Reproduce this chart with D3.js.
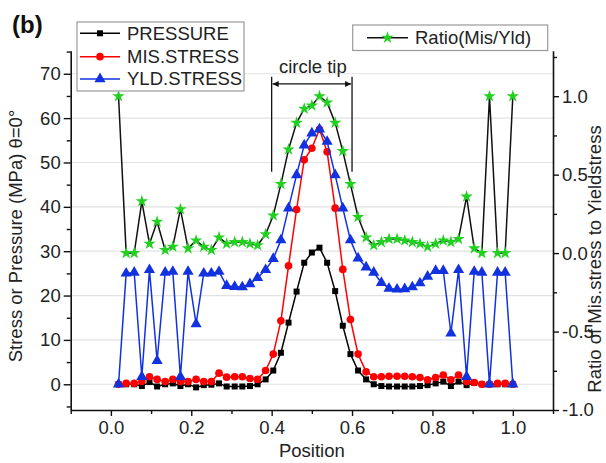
<!DOCTYPE html>
<html>
<head>
<meta charset="utf-8">
<script src="https://cdn.jsdelivr.net/npm/d3@7"></script>
<style>
  html, body { margin: 0; padding: 0; background: #fff; }
  svg { display: block; font-family: "Liberation Sans", Arial, sans-serif; }
</style>
</head>
<body>
<svg id="chart" width="606" height="463"></svg>
<script>
// Sample positions along the contact line
const positions = [0.019, 0.038, 0.058, 0.077, 0.096, 0.115, 0.135, 0.154, 0.173, 0.192,
  0.212, 0.231, 0.250, 0.269, 0.288, 0.308, 0.327, 0.346, 0.365, 0.385,
  0.404, 0.423, 0.442, 0.462, 0.481, 0.500, 0.519, 0.538, 0.558, 0.577,
  0.596, 0.615, 0.635, 0.654, 0.673, 0.692, 0.712, 0.731, 0.750, 0.769,
  0.788, 0.808, 0.827, 0.846, 0.865, 0.885, 0.904, 0.923, 0.942, 0.962,
  0.981, 1.000];

// Stress / pressure series (MPa)
const pressure = [0, 0, 0, -0.4, 0.5, -0.5, 0, 0.2, -0.4, 0,
  -0.7, -0.2, -0.1, 0.2, -0.5, -0.5, -0.5, -0.4, 0, 1.1,
  3.1, 7.1, 13.9, 20.9, 27.4, 29.7, 30.8, 27.4, 21.0, 13.2,
  6.8, 3.1, 1.1, 0, -0.4, -0.5, -0.5, -0.5, -0.5, -0.4,
  -0.2, 0.2, 0.6, -0.4, 0.6, -0.2, 0.3, 0, 0, 0,
  0, 0];
const misStress = [0, 0.2, 0.2, 0.6, 1.7, 1.1, 0.6, 1.1, 0.6, 0.6,
  1.1, 0.6, 0.6, 2.5, 1.6, 1.7, 1.7, 1.3, 1.1, 3.1,
  6.8, 14.3, 26.7, 39.4, 50.6, 53.2, 57.5, 52.4, 39.7, 25.9,
  14.6, 6.8, 2.8, 1.7, 1.7, 1.8, 1.8, 1.8, 1.7, 1.5,
  1.0, 1.5, 2.1, 1.0, 2.1, 0.6, 0.4, 0, 0, 0.2,
  0.2, 0];
const yldStress = [0, 25.0, 25.2, 1.7, 25.8, 5.3, 25.2, 25.4, 1.7, 25.4,
  13.6, 25.0, 25.0, 25.4, 22.2, 22.0, 21.9, 22.6, 24.0, 25.8,
  28.3, 32.5, 39.7, 47.2, 53.9, 56.6, 57.5, 54.7, 47.2, 39.7,
  32.5, 28.4, 26.4, 25.2, 22.9, 21.6, 21.4, 21.5, 21.9, 22.8,
  24.3, 25.6, 25.6, 11.5, 25.8, 1.7, 25.4, 25.2, 0, 25.2,
  25.2, 0];
// Ratio of Mises stress to yield stress (right axis)
const ratio = [1.0, 0.0, 0.0, 0.33, 0.06, 0.20, 0.02, 0.04, 0.28, 0.03,
  0.08, 0.04, 0.02, 0.10, 0.06, 0.07, 0.07, 0.06, 0.05, 0.12,
  0.24, 0.44, 0.66, 0.83, 0.92, 0.94, 1.0, 0.96, 0.83, 0.65,
  0.44, 0.23, 0.10, 0.05, 0.07, 0.09, 0.09, 0.08, 0.07, 0.06,
  0.04, 0.06, 0.08, 0.07, 0.09, 0.36, 0.03, 0.0, 1.0, 0.0,
  0.0, 1.0];

const xTicks = [0.0, 0.2, 0.4, 0.6, 0.8, 1.0];
const xMinorTicks = [-0.1, 0.1, 0.3, 0.5, 0.7, 0.9, 1.1];
const leftTicks = [0, 10, 20, 30, 40, 50, 60, 70];
const leftMinorTicks = [-5, 5, 15, 25, 35, 45, 55, 65, 75];
const rightTicks = [-1.0, -0.5, 0.0, 0.5, 1.0];
const rightMinorTicks = [-0.75, -0.25, 0.25, 0.75, 1.25];
const tipRange = [0.4, 0.6];

const svg = d3.select("#chart");
const plot = { left: 70.7, right: 553, top: 50.7, bottom: 410 };
const FONT = 18.5;
const TEXT = "#222";

const x = d3.scaleLinear().domain([-0.1, 1.1]).range([plot.left, plot.right]);
const yL = d3.scaleLinear().domain([-5.8, 75.2]).range([plot.bottom, plot.top]);
const yR = d3.scaleLinear().domain([-1.0, 1.29]).range([plot.bottom, plot.top]);

// horizontal grid at left major ticks
svg.append("g").selectAll("line").data(leftTicks).join("line")
  .attr("x1", plot.left).attr("x2", plot.right)
  .attr("y1", d => yL(d)).attr("y2", d => yL(d))
  .attr("stroke", "#e2e2e2").attr("stroke-width", 1.2);

// axes
function styleAxis(g) {
  g.selectAll("path.domain").attr("stroke", "#111").attr("stroke-width", 1.6);
  g.selectAll(".tick line").attr("stroke", "#111").attr("stroke-width", 1.4);
  g.selectAll(".tick text").attr("fill", TEXT)
    .attr("font-size", FONT).attr("font-family", "Liberation Sans, Arial, sans-serif");
}

const gx = svg.append("g").attr("transform", `translate(0,${plot.bottom})`)
  .call(d3.axisBottom(x).tickValues(xTicks).tickFormat(d3.format(".1f"))
    .tickSizeInner(6).tickSizeOuter(0).tickPadding(5));
styleAxis(gx);
svg.append("g").attr("transform", `translate(0,${plot.bottom})`)
  .call(d3.axisBottom(x).tickValues(xMinorTicks).tickFormat("").tickSizeInner(4).tickSizeOuter(0))
  .call(g => { g.select("path.domain").remove(); styleAxis(g); });

const gl = svg.append("g").attr("transform", `translate(${plot.left},0)`)
  .call(d3.axisLeft(yL).tickValues(leftTicks).tickFormat(d3.format("d"))
    .tickSizeInner(7).tickSizeOuter(0).tickPadding(3));
styleAxis(gl);
svg.append("g").attr("transform", `translate(${plot.left},0)`)
  .call(d3.axisLeft(yL).tickValues(leftMinorTicks).tickFormat("").tickSizeInner(4).tickSizeOuter(0))
  .call(g => { g.select("path.domain").remove(); styleAxis(g); });

const gr = svg.append("g").attr("transform", `translate(${plot.right},0)`)
  .call(d3.axisRight(yR).tickValues(rightTicks).tickFormat(d3.format(".1f"))
    .tickSizeInner(6).tickSizeOuter(0).tickPadding(3));
styleAxis(gr);
svg.append("g").attr("transform", `translate(${plot.right},0)`)
  .call(d3.axisRight(yR).tickValues(rightMinorTicks).tickFormat("").tickSizeInner(4).tickSizeOuter(0))
  .call(g => { g.select("path.domain").remove(); styleAxis(g); });

// minus signs as hyphens
gr.selectAll(".tick text").text(d => d3.format(".1f")(d).replace("\u2212", "-"));

// axis titles
svg.append("text").attr("x", (plot.left + plot.right) / 2).attr("y", 457)
  .attr("text-anchor", "middle").attr("font-size", FONT).attr("fill", TEXT).text("Position");
svg.append("text").attr("transform", "translate(21.5,236) rotate(-90)")
  .attr("text-anchor", "middle").attr("font-size", FONT).attr("fill", TEXT)
  .text("Stress or Pressure (MPa) \u03b8=0\u00b0");
svg.append("text").attr("transform", "translate(601,259) rotate(-90)")
  .attr("text-anchor", "middle").attr("font-size", FONT).attr("fill", TEXT)
  .text("Ratio of Mis.stress to Yieldstress");

// panel tag
svg.append("text").attr("x", 12).attr("y", 33).attr("font-size", 24)
  .attr("font-weight", "bold").attr("fill", "#111").text("(b)");

// "circle tip" annotation
const defs = svg.append("defs");
defs.append("marker").attr("id", "arrowHead").attr("viewBox", "0 0 10 10")
  .attr("refX", 10).attr("refY", 5).attr("markerWidth", 7).attr("markerHeight", 6)
  .attr("markerUnits", "userSpaceOnUse").attr("orient", "auto-start-reverse")
  .append("path").attr("d", "M0,0 L10,5 L0,10 Z").attr("fill", "#111");

const ann = svg.append("g");
tipRange.forEach(p => {
  ann.append("line").attr("x1", x(p)).attr("x2", x(p))
    .attr("y1", yL(69.3)).attr("y2", yL(47.9))
    .attr("stroke", "#111").attr("stroke-width", 1.3);
});
ann.append("line").attr("x1", x(tipRange[0]) + 1).attr("x2", x(tipRange[1]) - 1)
  .attr("y1", yL(67.7)).attr("y2", yL(67.7))
  .attr("stroke", "#111").attr("stroke-width", 1.2)
  .attr("marker-start", "url(#arrowHead)").attr("marker-end", "url(#arrowHead)");
ann.append("text").attr("x", x((tipRange[0] + tipRange[1]) / 2) + 1).attr("y", 72.5)
  .attr("text-anchor", "middle").attr("font-size", FONT).attr("fill", TEXT).text("circle tip");

// series
const series = [
  { name: "PRESSURE", values: pressure, y: yL, color: "#000000", line: "#000000", symbol: d3.symbolSquare, size: 36 },
  { name: "MIS.STRESS", values: misStress, y: yL, color: "#ff0000", line: "#ff0000", symbol: d3.symbolCircle, size: 46 },
  { name: "YLD.STRESS", values: yldStress, y: yL, color: "#1232e0", line: "#1232e0", symbol: d3.symbolTriangle, size: 54 },
  { name: "Ratio(Mis/Yld)", values: ratio, y: yR, color: "#22d022", line: "#111111", symbol: d3.symbolStar, size: 48 }
];

series.forEach(s => {
  const pts = positions.map((p, i) => [p, s.values[i]]);
  const line = d3.line().x(d => x(d[0])).y(d => s.y(d[1]));
  const g = svg.append("g");
  g.append("path").datum(pts).attr("d", line).attr("fill", "none")
    .attr("stroke", s.line).attr("stroke-width", 1.5).attr("stroke-linejoin", "round");
  g.selectAll("path.mark").data(pts).join("path").attr("class", "mark")
    .attr("d", d3.symbol().type(s.symbol).size(s.size))
    .attr("transform", d => `translate(${x(d[0])},${s.y(d[1])})`)
    .attr("fill", s.color);
});

// legends
function legend(items, box, rowsY, lineX, textX) {
  const g = svg.append("g");
  g.append("rect").attr("x", box[0]).attr("y", box[1]).attr("width", box[2]).attr("height", box[3])
    .attr("fill", "#fff").attr("stroke", "#999").attr("stroke-width", 1.2);
  items.forEach((s, i) => {
    const yy = rowsY[i];
    g.append("line").attr("x1", lineX[0]).attr("x2", lineX[1]).attr("y1", yy).attr("y2", yy)
      .attr("stroke", s.line).attr("stroke-width", 1.5);
    g.append("path").attr("d", d3.symbol().type(s.symbol).size(s.size))
      .attr("transform", `translate(${(lineX[0] + lineX[1]) / 2},${yy})`).attr("fill", s.color);
    g.append("text").attr("x", textX).attr("y", yy).attr("dy", "0.35em")
      .attr("font-size", FONT).attr("fill", TEXT).text(s.name);
  });
}
legend(series.slice(0, 3), [77, 22, 167, 69], [33.3, 56.7, 79], [80, 120], 127);
legend(series.slice(3), [352.7, 25, 195, 25.5], [37.7], [367, 408], 415);
</script>
</body>
</html>
